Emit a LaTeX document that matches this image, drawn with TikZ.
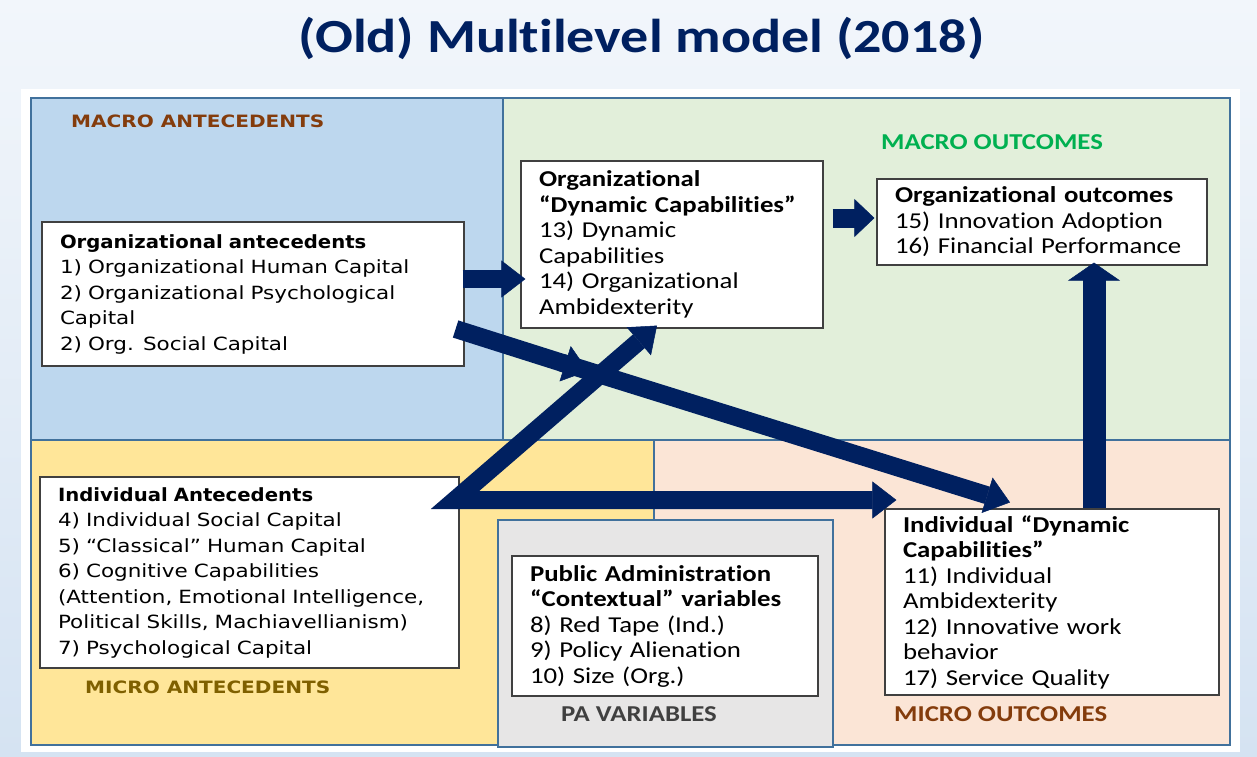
\documentclass[tikz,border=0pt]{standalone}
\usepackage{fontspec}
\usetikzlibrary{arrows.meta,calc}
\newfontfamily\cbri[FakeStretch=1.18,Ligatures=NoCommon]{Carlito}
\newfontfamily\vrd[FakeStretch=1.18]{DejaVu Sans}
\newfontfamily\vrdb[FakeStretch=1.08]{DejaVu Sans}
\definecolor{navy}{HTML}{002060}
\definecolor{bgtop}{HTML}{F2F6FB}
\definecolor{bgbot}{HTML}{D5E3F2}
\definecolor{macroblue}{HTML}{BDD7EE}
\definecolor{macrogreen}{HTML}{E2EFDA}
\definecolor{microyellow}{HTML}{FFE699}
\definecolor{micropeach}{HTML}{FBE5D6}
\definecolor{pagray}{HTML}{E7E6E6}
\definecolor{regionline}{HTML}{41719C}
\definecolor{boxline}{HTML}{404040}
\definecolor{brownlab}{HTML}{843C0C}
\definecolor{goldlab}{HTML}{7F6000}
\definecolor{greenlab}{HTML}{00B050}
\definecolor{graylab}{HTML}{404040}
\newcommand{\vbodyfont}{\vrd\fontsize{18.2}{25.5}\selectfont}
\newcommand{\vhead}[1]{{\vrdb\fontsize{18.2}{25.5}\selectfont\bfseries #1}}
\newcommand{\cbodyfont}{\cbri\fontsize{22.7}{25.5}\selectfont}
\tikzset{
  region/.style={draw=regionline, line width=1.5pt},
  textbox/.style={draw=boxline, fill=white, line width=1.2pt, inner xsep=18pt, inner ysep=0pt, align=left, anchor=center},
  vbox/.style={textbox, font=\vbodyfont},
  cbox/.style={textbox, font=\cbodyfont},
  lab/.style={inner sep=0pt, anchor=west},
  vlab/.style={lab, font=\vrd\bfseries\fontsize{17}{20}\selectfont},
  clab/.style={lab, font=\cbri\bfseries\fontsize{22.7}{25}\selectfont},
  bigarr/.style={draw=navy, line width=18pt, -{Triangle[width=37pt,length=24pt,line width=0.5pt]}},
  medarr/.style={draw=navy, line width=19pt, -{Triangle[width=38pt,length=20pt,line width=0.5pt]}},
  vertarr/.style={draw=navy, line width=23pt, -{Triangle[width=52pt,length=18pt,line width=0.5pt]}},
  dblarr/.style={draw=navy, line width=18pt, line join=miter, {Triangle[width=37pt,length=24pt,line width=0.5pt]}-{Triangle[width=37pt,length=24pt,line width=0.5pt]}}
}
\begin{document}
\begin{tikzpicture}[x=1pt,y=-1pt]
\useasboundingbox (0,0) rectangle (1257,756);
\shade[top color=bgtop,bottom color=bgbot] (0,0) rectangle (1257,756);
\fill[white] (21,89) rectangle (1240,752);
% regions
\filldraw[region, fill=macroblue] (31,98) rectangle (503,440);
\filldraw[region, fill=macrogreen] (503,98) rectangle (1230,440);
\filldraw[region, fill=microyellow] (31,440) rectangle (654,745);
\filldraw[region, fill=micropeach] (654,440) rectangle (1230,745);
\filldraw[region, fill=pagray] (498,520) rectangle (833,747);
% title
\node[font=\cbri\bfseries\fontsize{47.5}{57}\selectfont, text=navy, anchor=base, inner sep=0pt] (title) at (641.5,52) {(Old) Multilevel model (2018)};
% region labels
\node[vlab, text=brownlab] (lmacroant) at (71,121) {MACRO ANTECEDENTS};
\node[clab, text=greenlab] (lmacroout) at (881,142) {MACRO OUTCOMES};
\node[vlab, text=goldlab] (lmicroant) at (85,687) {MICRO ANTECEDENTS};
\node[clab, text=graylab] (lpa) at (561,714) {PA VARIABLES};
\node[clab, text=brownlab] (lmicroout) at (894,714) {MICRO OUTCOMES};
% boxes
\node[vbox, text width=386pt, minimum height=144pt] (organt) at (253,294) {%
\vhead{Organizational antecedents}\\
\mbox{1) Organizational Human Capital}\\
\mbox{2) Organizational Psychological}\\
Capital\\
2) Org. Social Capital};
\node[cbox, text width=266pt, minimum height=167pt] (orgdc) at (672,244.5) {%
\textbf{Organizational}\\
\textbf{“Dynamic Capabilities”}\\
13) Dynamic\\
Capabilities\\
14) Organizational\\
Ambidexterity};
\node[cbox, text width=294pt, minimum height=86pt] (orgout) at (1042,222) {%
\textbf{Organizational outcomes}\\
15) Innovation Adoption\\
16) Financial Performance};
\node[vbox, text width=383pt, minimum height=191pt] (indant) at (249.5,572.5) {%
\vhead{Individual Antecedents}\\
4) Individual Social Capital\\
5) “Classical” Human Capital\\
6) Cognitive Capabilities\\
\mbox{(Attention, Emotional Intelligence,}\\
\mbox{Political Skills, Machiavellianism)}\\
7) Psychological Capital};
\node[cbox, text width=270pt, minimum height=140pt] (pa) at (665,626) {%
\textbf{Public Administration}\\
\textbf{“Contextual” variables}\\
8) Red Tape (Ind.)\\
9) Policy Alienation\\
10) Size (Org.)};
\node[cbox, text width=298pt, minimum height=186pt] (inddc) at (1052,602) {%
\textbf{Individual “Dynamic}\\
\textbf{Capabilities”}\\
11) Individual\\
Ambidexterity\\
12) Innovative work\\
behavior\\
17) Service Quality};
% connectors
\coordinate (mid3) at (588,371);
\coordinate (bend5) at (455,500);
\draw[bigarr] ([xshift=-2pt,yshift=15pt]organt.east) -- ([xshift=5pt,yshift=-34.5pt]orgdc.west);
\draw[medarr] ([xshift=9pt,yshift=26.5pt]orgdc.east) -- ([xshift=-2pt,yshift=4pt]orgout.west);
\draw[vertarr] ([xshift=42pt]inddc.north) -- ([xshift=52pt,yshift=3pt]orgout.south);
\draw[bigarr] ([xshift=-9pt,yshift=-35pt]organt.east) -- (mid3);
\draw[bigarr] ($([xshift=-9pt,yshift=-35pt]organt.east)!0.8!(mid3)$) -- ([xshift=-42pt,yshift=6pt]inddc.north);
\draw[dblarr] ([xshift=-15pt,yshift=3pt]orgdc.south) -- (bend5) -- ([xshift=12pt,yshift=102pt]inddc.west);
\end{tikzpicture}
\end{document}
